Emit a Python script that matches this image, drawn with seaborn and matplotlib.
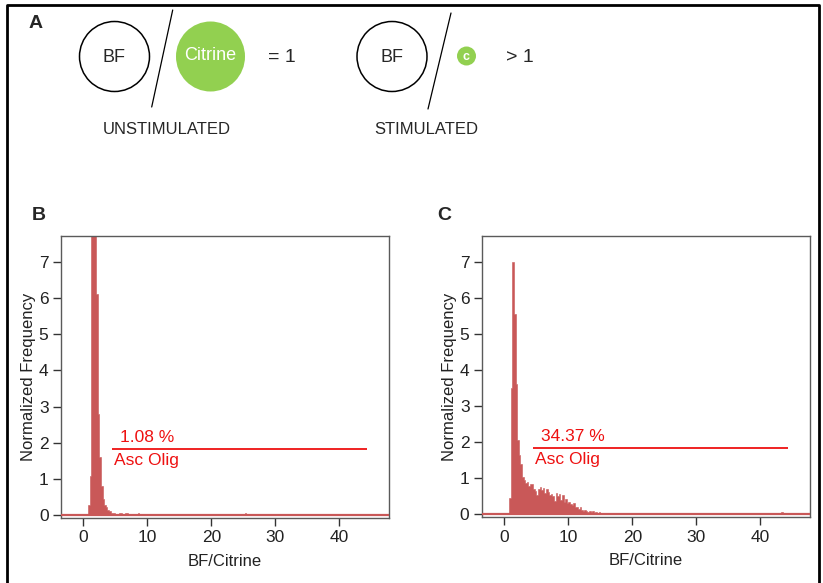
import numpy as np
import pandas as pd
import matplotlib
matplotlib.use("Agg")
import matplotlib.pyplot as plt
from matplotlib.patches import Ellipse
import seaborn as sns

# histogram bins (BF/Citrine ratio)
bin_width = 0.25
bin_range = (0, 47.5)

# panel B (unstimulated): contiguous bins starting at 0.75
b_start = 0.75
b_heights = [0.3, 1.1, 10.5, 11.8, 9.0, 6.1, 2.8, 1.6, 0.8, 0.45, 0.3, 0.22,
             0.15, 0.12, 0.08, 0.06, 0.07, 0.05, 0.04, 0.06, 0.07, 0.05,
             0.03, 0.07, 0.06, 0.03, 0.05, 0.02, 0.04, 0.03, 0.05, 0.06,
             0.03, 0.02, 0.04, 0.03, 0.02, 0.03, 0.02]
b_tail_x = [11.6, 25.4, 29.3]
b_tail_h = [0.04, 0.08, 0.03]

# panel C (stimulated)
c_start = 0.75
c_heights = [0.45, 3.5, 7.0, 5.55, 3.6, 2.05, 1.65, 1.4, 1.05, 0.95, 0.88,
             0.9, 0.78, 0.85, 0.85, 0.7, 0.65, 0.55, 0.7, 0.75, 0.68, 0.72,
             0.6, 0.7, 0.62, 0.55, 0.58, 0.5, 0.38, 0.6, 0.5, 0.57, 0.4,
             0.55, 0.35, 0.42, 0.32, 0.35, 0.3, 0.25, 0.32, 0.22, 0.2, 0.15,
             0.2, 0.12, 0.1, 0.12, 0.1, 0.08, 0.1, 0.06, 0.09, 0.05, 0.07,
             0.05, 0.06, 0.04, 0.05, 0.05, 0.04, 0.05, 0.03, 0.04, 0.04,
             0.03, 0.03, 0.04, 0.02, 0.03, 0.02, 0.03, 0.02, 0.02, 0.02]
c_tail_x = [23.2, 24.8, 26.7, 29.7, 43.3]
c_tail_h = [0.04, 0.04, 0.05, 0.02, 0.07]

gate_y = 1.83
gate_x = [4.4, 44.4]
pct_labels = ["1.08 %", "34.37 %"]
gate_name = "Asc Olig"

bar_color = "#c95858"
spine_color = "#5a5a5a"

sns.set_theme(style="ticks")
plt.rcParams['font.family'] = ['Liberation Sans', 'DejaVu Sans']

fig = plt.figure(figsize=(8.23, 5.83), dpi=100)


def hist_panel(ax, start, heights, tail_x, tail_h, pct):
    centers = start + bin_width * (np.arange(len(heights)) + 0.5)
    df = pd.DataFrame({
        "ratio": np.concatenate([centers, tail_x]),
        "freq": np.concatenate([heights, tail_h]),
    })
    sns.histplot(data=df, x="ratio", weights="freq", binwidth=bin_width,
                 binrange=bin_range, ax=ax, color=bar_color, alpha=1,
                 linewidth=0.4, element="step", fill=True)
    ax.axhline(0, color=bar_color, lw=1.6, zorder=3)
    ax.set_xlim(-3.5, 47.8)
    ax.set_ylim(-0.07, 7.71)
    ax.set_xticks([0, 10, 20, 30, 40])
    ax.set_yticks(range(0, 8))
    for s in ax.spines.values():
        s.set_visible(True)
        s.set_color(spine_color)
        s.set_linewidth(1.0)
    ax.tick_params(axis="both", direction="out", length=6, width=1,
                   color="#333333", labelsize=12.5, pad=3, labelcolor="#222222")
    ax.set_xlabel("BF/Citrine", fontsize=12, color="#222222", labelpad=6)
    ax.set_ylabel("Normalized Frequency", fontsize=12, color="#222222", labelpad=2)
    ax.hlines(gate_y, gate_x[0], gate_x[1], color="#ee1111", lw=1.3)
    ax.text(5.8, gate_y + 0.12, pct, color="#ee1111", fontsize=12.5,
            ha="left", va="bottom")
    ax.text(4.8, gate_y - 0.1, gate_name, color="#ee1111", fontsize=12.5,
            ha="left", va="top")


ax_b = fig.add_axes([61 / 823, 65 / 583, 328 / 823, 282 / 583])
hist_panel(ax_b, b_start, b_heights, b_tail_x, b_tail_h, pct_labels[0])
ax_c = fig.add_axes([482 / 823, 66 / 583, 328 / 823, 281 / 583])
hist_panel(ax_c, c_start, c_heights, c_tail_x, c_tail_h, pct_labels[1])

# schematic on top, drawn in pixel coordinates
top = fig.add_axes([0, 0, 1, 1], zorder=-1)
top.set_xlim(0, 823)
top.set_ylim(583, 0)
top.axis("off")

green = "#92d050"
top.plot([7, 7, 819, 819], [583, 4.5, 4.5, 583], color="black", lw=2)
top.text(29, 23, "A", fontsize=14, fontweight="bold", va="center", ha="left")
top.text(32, 216, "B", fontsize=14, fontweight="bold", va="center", ha="left")
top.text(437, 216, "C", fontsize=14, fontweight="bold", va="center", ha="left")

top.add_patch(Ellipse((114.5, 56.5), 70, 70, fill=False, ec="black", lw=1.1))
top.text(114.5, 57, "BF", fontsize=13, ha="center", va="center")
top.plot([172.7, 151.7], [10, 107], color="black", lw=0.9)
top.add_patch(Ellipse((210.5, 56.5), 69, 70, fc=green, ec="none"))
top.text(210.5, 56, "Citrine", fontsize=13, color="white", ha="center", va="center")
top.text(268, 57, "= 1", fontsize=14, ha="left", va="center")

top.add_patch(Ellipse((392, 56.5), 70, 70, fill=False, ec="black", lw=1.1))
top.text(392, 57, "BF", fontsize=13, ha="center", va="center")
top.plot([451, 428], [13, 109], color="black", lw=0.9)
top.add_patch(Ellipse((466.5, 56), 19, 19, fc=green, ec="none"))
top.text(466.5, 56.5, "c", fontsize=9, color="white", fontweight="bold",
         ha="center", va="center")
top.text(506, 57, "> 1", fontsize=14, ha="left", va="center")

top.text(167, 130, "UNSTIMULATED", fontsize=12, ha="center", va="center")
top.text(426, 130, "STIMULATED", fontsize=12, ha="center", va="center")

fig.savefig("out.png", dpi=100)
